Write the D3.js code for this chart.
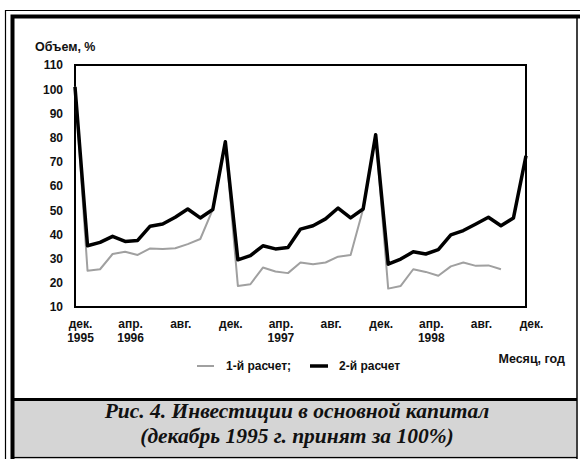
<!DOCTYPE html>
<html><head><meta charset="utf-8">
<script src="https://cdn.jsdelivr.net/npm/d3@7/dist/d3.min.js"></script>
<style>html,body{margin:0;padding:0;background:#fff;}svg{display:block;}</style>
</head><body>
<script>
// ---- data ----
const months = ["12.1995","01.1996","02.1996","03.1996","04.1996","05.1996","06.1996","07.1996","08.1996","09.1996","10.1996","11.1996",
  "12.1996","01.1997","02.1997","03.1997","04.1997","05.1997","06.1997","07.1997","08.1997","09.1997","10.1997","11.1997",
  "12.1997","01.1998","02.1998","03.1998","04.1998","05.1998","06.1998","07.1998","08.1998","09.1998","10.1998","11.1998","12.1998"];
const calc1 = [101, 25, 25.6, 31.9, 32.8, 31.5, 34.2, 34, 34.3, 36, 38.1, 50.3, 78.3, 18.7, 19.4, 26.3, 24.7, 24, 28.4, 27.7, 28.4, 30.8, 31.5, 50.5, 81.2, 17.6, 18.7, 25.6, 24.5, 22.9, 26.8, 28.4, 27, 27.2, 25.6];
const calc2 = [101, 35.3, 36.7, 39.2, 37.1, 37.5, 43.4, 44.3, 47.1, 50.5, 46.8, 50.3, 78.3, 29.5, 31.2, 35.3, 34, 34.6, 42.2, 43.6, 46.4, 50.9, 46.8, 50.5, 81.2, 27.7, 29.8, 32.8, 31.9, 33.7, 39.8, 41.6, 44.3, 47.1, 43.6, 46.8, 72.5];
const xTickMonths = ["12.1995","04.1996","08.1996","12.1996","04.1997","08.1997","12.1997","04.1998","08.1998","12.1998"];
const xTickNames  = ["дек.","апр.","авг.","дек.","апр.","авг.","дек.","апр.","авг.","дек."];
const xTickYears  = ["1995","1996","","","1997","","","1998","",""];
const yTicks = [10,20,30,40,50,60,70,80,90,100,110];
const seriesNames = ["1-й расчет;","2-й расчет"];

// ---- drawing ----
const W = 580, H = 459;
const svg = d3.select("body").append("svg").attr("width", W).attr("height", H);
const sans = "'Liberation Sans', Arial, sans-serif";
const serif = "'Liberation Serif', 'Times New Roman', serif";

// frame / borders
svg.append("rect").attr("x",14).attr("y",401).attr("width",562).attr("height",55).attr("fill","#d5d5d5");
const border = svg.append("g").attr("stroke","#000").attr("fill","none");
border.append("path").attr("d","M5.5,459 V10.5 H580").attr("stroke-width",1.2);
border.append("path").attr("d","M12.5,459 V16.5 H580").attr("stroke-width",4);
border.append("path").attr("d","M577,16 V459").attr("stroke-width",1.5);
border.append("path").attr("d","M12,399.5 H577").attr("stroke-width",3);
border.append("path").attr("d","M12,457.5 H577").attr("stroke-width",1.5);

const x = d3.scalePoint().domain(months).range([75, 526]);
const y = d3.scaleLinear().domain([10, 110]).range([307, 65]);

// plot frame
svg.append("rect").attr("x",75).attr("y",65).attr("width",451).attr("height",242)
  .attr("fill","none").attr("stroke","#000").attr("stroke-width",2);

// y axis
const yAxis = svg.append("g").attr("transform","translate(75,0)")
  .call(d3.axisLeft(y).tickValues(yTicks).tickSize(0).tickPadding(12));
yAxis.select(".domain").remove();
yAxis.selectAll("text").attr("font-family",sans).attr("font-size",12).attr("font-weight","bold").attr("fill","#111");

svg.append("text").attr("x",35).attr("y",51).text("Объем, %")
  .attr("font-family",sans).attr("font-size",12.5).attr("font-weight","bold").attr("fill","#111");

// x axis labels
const xAxis = svg.append("g").attr("transform","translate(0,307)")
  .call(d3.axisBottom(x).tickValues(xTickMonths).tickSize(0).tickFormat((d,i)=>xTickNames[i]));
xAxis.select(".domain").remove();
xAxis.selectAll(".tick text").each(function(d,i){
  const t = d3.select(this);
  t.text(null).attr("y",0).attr("dy",null).attr("x",5)
   .attr("font-family",sans).attr("font-size",12).attr("font-weight","bold").attr("fill","#111");
  t.append("tspan").attr("x",5).attr("y",21).text(xTickNames[i]);
  if (xTickYears[i]) t.append("tspan").attr("x",5).attr("y",35).text(xTickYears[i]);
});

svg.append("text").attr("x",565).attr("y",363).attr("text-anchor","end").text("Месяц, год")
  .attr("font-family",sans).attr("font-size",12.5).attr("font-weight","bold").attr("fill","#111");

// lines
const line = d3.line().x((d,i)=>x(months[i])).y(d=>y(d));
svg.append("path").datum(calc1).attr("d",line).attr("fill","none")
  .attr("stroke","#a0a0a0").attr("stroke-width",2).attr("stroke-linejoin","round");
svg.append("path").datum(calc2).attr("d",line).attr("fill","none")
  .attr("stroke","#000").attr("stroke-width",3.5).attr("stroke-linejoin","round");

// legend
const lg = svg.append("g");
lg.append("line").attr("x1",197).attr("x2",214).attr("y1",366).attr("y2",366).attr("stroke","#a0a0a0").attr("stroke-width",2);
lg.append("text").attr("x",226).attr("y",370).text(seriesNames[0])
  .attr("font-family",sans).attr("font-size",12).attr("font-weight","bold").attr("fill","#111");
lg.append("line").attr("x1",310).attr("x2",328).attr("y1",366).attr("y2",366).attr("stroke","#000").attr("stroke-width",3.5);
lg.append("text").attr("x",339).attr("y",370).text(seriesNames[1])
  .attr("font-family",sans).attr("font-size",12).attr("font-weight","bold").attr("fill","#111");

// caption
svg.append("text").attr("x",297).attr("y",418).attr("text-anchor","middle")
  .text("Рис. 4. Инвестиции в основной капитал")
  .attr("font-family",serif).attr("font-size",21.5).attr("font-weight","bold").attr("font-style","italic").attr("fill","#111");
svg.append("text").attr("x",297).attr("y",443).attr("text-anchor","middle")
  .text("(декабрь 1995 г. принят за 100%)")
  .attr("font-family",serif).attr("font-size",21.5).attr("font-weight","bold").attr("font-style","italic").attr("fill","#111");
</script>
</body></html>
